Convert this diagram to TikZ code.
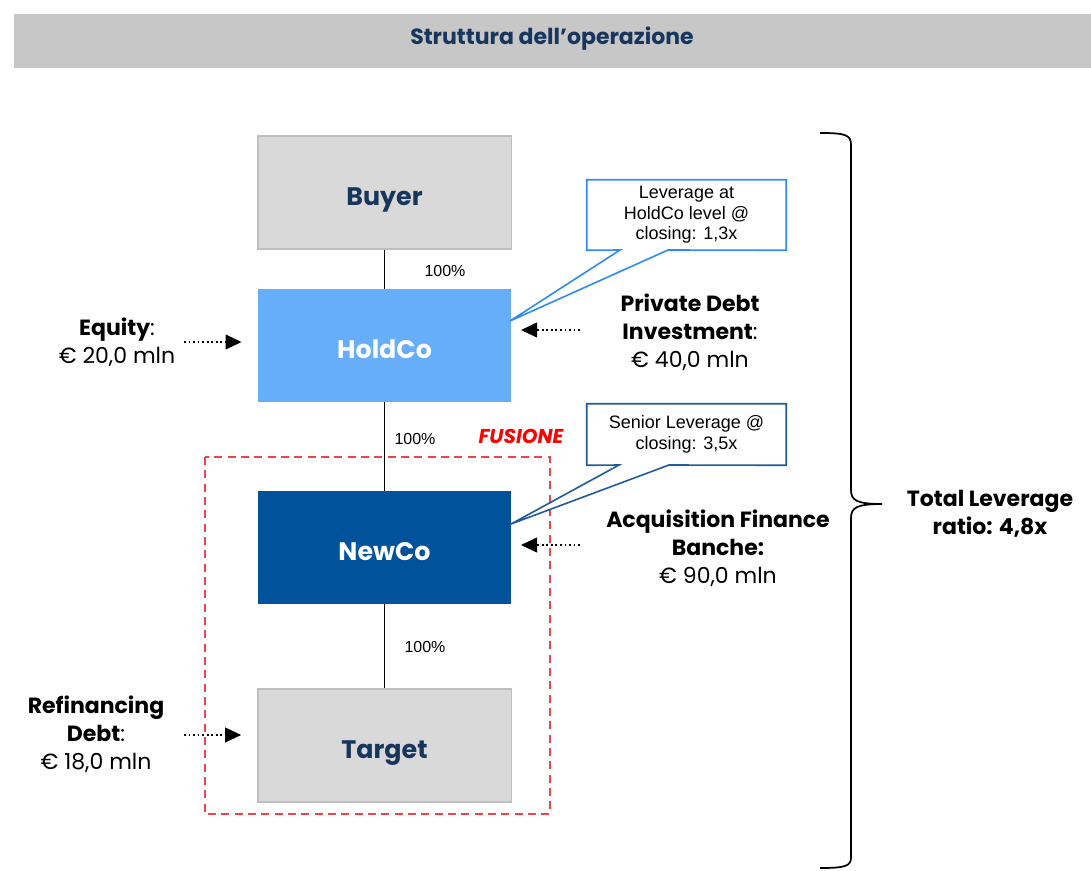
\documentclass[tikz,border=0pt]{standalone}
\usepackage{fontspec}
\setmainfont{Poppins}
\newfontfamily\arialf{Liberation Sans}
\usetikzlibrary{arrows.meta,calc}
\definecolor{hdrgrey}{HTML}{C6C7C6}
\definecolor{boxgrey}{HTML}{D9D9D9}
\definecolor{boxline}{HTML}{BFBFBF}
\definecolor{navy}{HTML}{17365D}
\definecolor{holdblue}{HTML}{66ADFA}
\definecolor{newblue}{HTML}{00529B}
\definecolor{callblue}{HTML}{2E8BEF}
\definecolor{calldark}{HTML}{1F5C99}
\definecolor{fusred}{HTML}{FF0000}
\definecolor{dashred}{HTML}{F0444C}
\tikzset{
  entity/.style={minimum width=190pt, minimum height=84.75pt, inner sep=0pt, text height=19.5pt, text depth=0pt, font=\fontsize{19}{22}\selectfont\bfseries},
  pct/.style={font=\arialf\fontsize{12}{14}\selectfont, text=black},
  fund/.style={align=center, font=\fontsize{16.5}{21}\selectfont, text=black},
  calltext/.style={align=center, font=\arialf\fontsize{13.5}{15.5}\selectfont, minimum width=149.25pt, inner sep=0pt},
  flow/.style={dotted, line width=1.4pt, -{Triangle[length=12pt,width=11pt]}},
}
\begin{document}
\begin{tikzpicture}[x=0.75pt,y=-0.75pt]
\useasboundingbox (0,0) rectangle (1091,870);
% header
\fill[hdrgrey] (14,14) rectangle (1091,68);
\node[text=navy, font=\fontsize{16.5}{18}\selectfont\bfseries] (hdr) at (552,39) {Struttura dell’operazione};
% boxes
\node[entity, fill=boxgrey, draw=boxline, line width=1pt, text=navy] (buyer) at (384.5,192.5) {Buyer};
\node[entity, fill=holdblue, text=white] (holdco) at (384.5,345.5) {HoldCo};
\node[entity, fill=newblue, text=white] (newco) at (384.5,547.5) {NewCo};
\node[entity, fill=boxgrey, draw=boxline, line width=1pt, text=navy] (target) at (384.5,745.5) {Target};
% connectors
\draw[line width=1pt] (buyer.south) -- (holdco.north);
\draw[line width=1pt] (holdco.south) -- (newco.north);
\draw[line width=1pt] (newco.south) -- (target.north);
\node[pct] (p1) at (445,271) {100\%};
\node[pct] (p2) at (415,439) {100\%};
\node[pct] (p3) at (425,647) {100\%};
% fusione
\draw[dashred, line width=1pt, dash pattern=on 6pt off 4pt] (205,457) rectangle (550,814);
\node[text=fusred, font=\fontsize{15}{17}\selectfont\bfseries\itshape] (fus) at (521,436) {FUSIONE};
% callouts
\node[calltext, minimum height=52.5pt] (c1) at (686.5,215) {};
\coordinate (t1) at (510,321);
\draw[callblue, line width=1.2pt, fill=white] (c1.north west) -- (c1.north east) -- (c1.south east) -- (668,250) -- (t1) -- (620,250) -- (c1.south west) -- cycle;
\node[calltext] (c1t) at (c1.center) {Leverage at\\HoldCo level @\\closing: 1,3x};
\node[calltext, minimum height=45.75pt] (c2) at (686.5,434.5) {};
\coordinate (t2) at (511,524);
\draw[calldark, line width=1.2pt, fill=white] (c2.north west) -- (c2.north east) -- (c2.south east) -- (669,465) -- (t2) -- (619,465) -- (c2.south west) -- cycle;
\node[calltext] (c2t) at (c2.center) {Senior Leverage @\\closing: 3,5x};
% funding texts
\node[fund] (eq) at (117,342) {\textbf{Equity}:\\€ 20,0 mln};
\node[fund] (pd) at (690,332) {\textbf{Private Debt}\\\textbf{Investment}:\\€ 40,0 mln};
\node[fund] (af) at (718,548) {\textbf{Acquisition Finance}\\\textbf{Banche:}\\€ 90,0 mln};
\node[fund] (rd) at (96,734) {\textbf{Refinancing}\\\textbf{Debt}:\\€ 18,0 mln};
% flows
\coordinate (e0) at (184,342); \coordinate (e1) at ($(holdco.west)+(-16,-3.5)$);
\draw[flow] (e0) -- (e1);
\coordinate (pd0) at (580,330); \coordinate (pd1) at (521,330);
\draw[flow] (pd0) -- (pd1);
\coordinate (af0) at (580,545); \coordinate (af1) at (521,545);
\draw[flow] (af0) -- (af1);
\coordinate (r0) at (184,735); \coordinate (r1) at ($(target.west)+(-16,-10.5)$);
\draw[flow] (r0) -- (r1);
% brace
\draw[line width=1.3pt, line join=round] (820,133) .. controls (846,133) and (851,135) .. (851,145) -- (851,490) .. controls (851,500) and (856,504) .. (882,504)
  (882,504) .. controls (856,504) and (851,508) .. (851,518) -- (851,857) .. controls (851,866) and (846,868) .. (820,868);
\coordinate (btip) at (882,504);
\node[align=center, text=black, font=\fontsize{16.5}{21}\selectfont\bfseries] (tl) at (990,514) {Total Leverage\\ratio: 4,8x};
\end{tikzpicture}
\end{document}
